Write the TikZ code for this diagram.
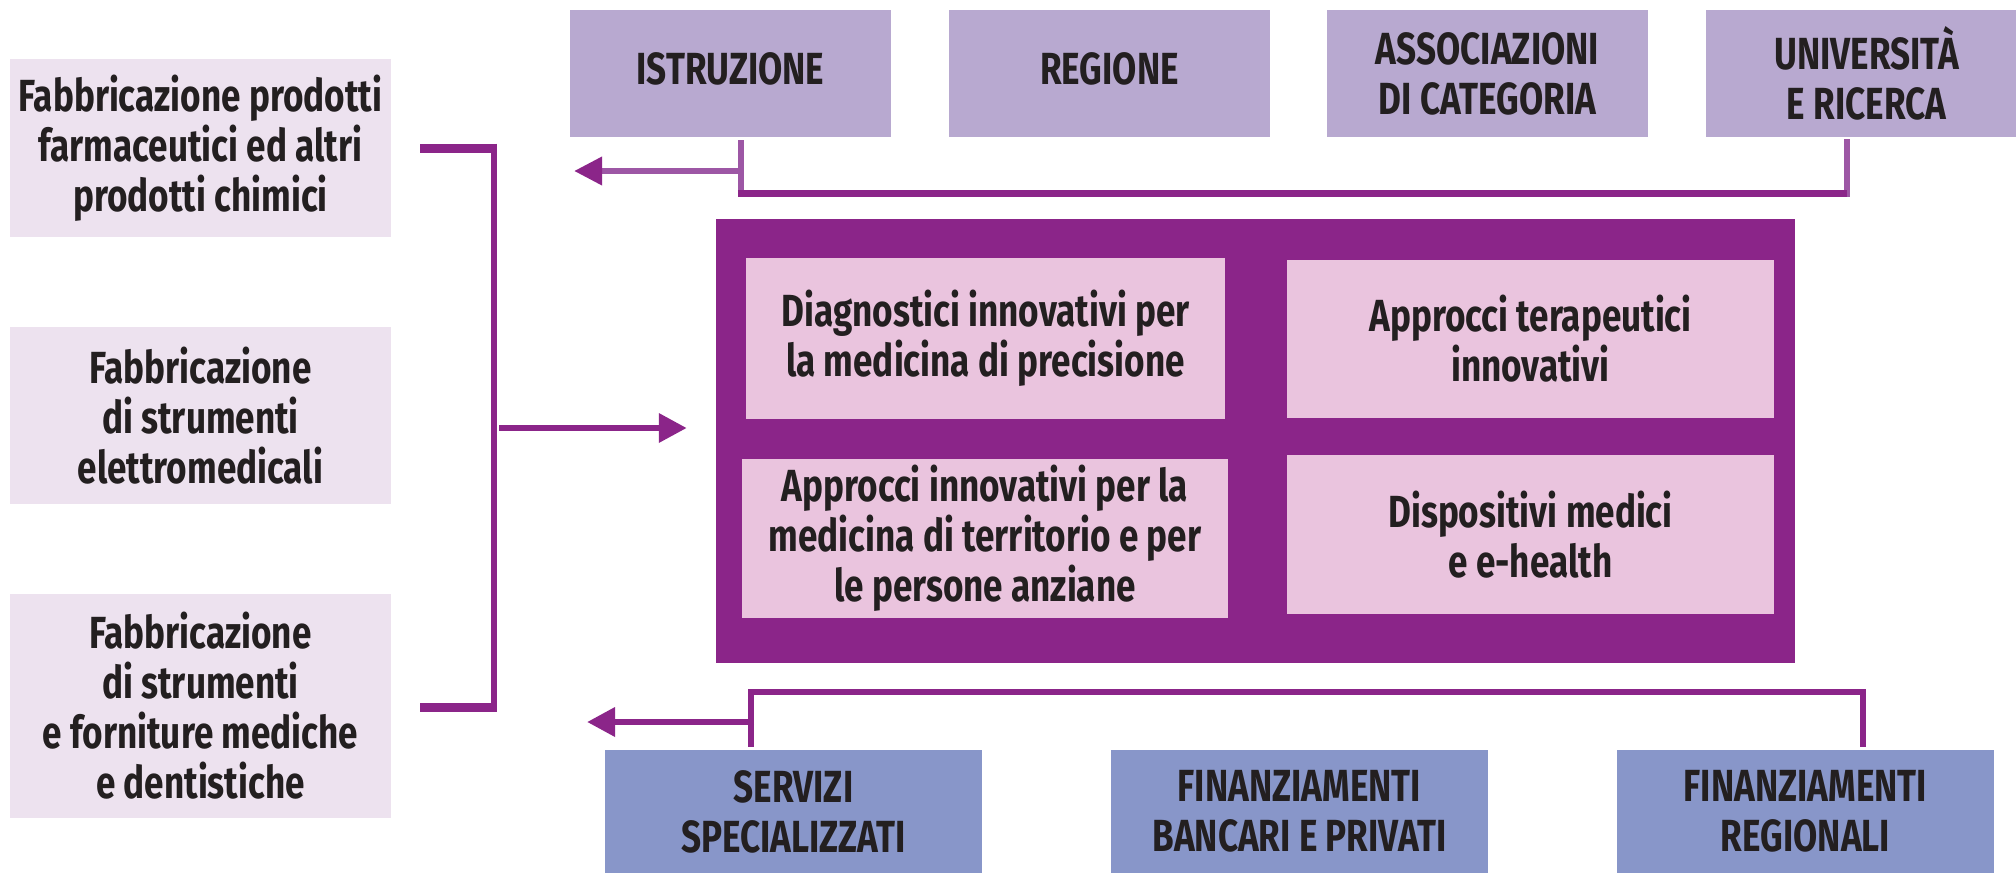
\documentclass[tikz,border=0pt]{standalone}
\usepackage{fontspec}
\setmainfont{Fira Sans}[FakeStretch=0.78]
\usetikzlibrary{arrows.meta}

\definecolor{inkdark}{HTML}{231F20}
\definecolor{sectorfill}{HTML}{EDE2EF}
\definecolor{actorfill}{HTML}{B8A9D0}
\definecolor{hubpurple}{HTML}{8B2589}
\definecolor{themefill}{HTML}{EAC4DE}
\definecolor{fundfill}{HTML}{8896C9}
\definecolor{linklight}{HTML}{9D57A5}

\begin{document}
\begin{tikzpicture}[x=1pt, y=-1pt, >={Triangle[length=28pt,width=28pt]},
  box/.style={rectangle, inner sep=0pt, align=center, text=inkdark, font=\fontsize{45}{50}\selectfont\bfseries},
  sector/.style={box, fill=sectorfill, minimum width=381pt},
  actor/.style={box, fill=actorfill, minimum width=321pt, minimum height=127pt},
  theme/.style={box, fill=themefill, minimum height=159pt},
  fund/.style={box, fill=fundfill, minimum width=377pt, minimum height=123pt},
  link/.style={hubpurple, line width=6.5pt}]
  \useasboundingbox (0,0) rectangle (2016,873);
  % sectors on the left
  \node[sector, minimum height=178pt] (fab1) at (200.5,148) {Fabbricazione prodotti\\farmaceutici ed altri\\prodotti chimici};
  \node[sector, minimum height=177pt] (fab2) at (200.5,415.5) {Fabbricazione\\di strumenti\\elettromedicali};
  \node[sector, minimum height=224pt] (fab3) at (200.5,706) {Fabbricazione\\di strumenti\\e forniture mediche\\e dentistiche};
  % actors on top
  \node[actor, text depth=10pt] (istr) at (730.5,73.5) {ISTRUZIONE};
  \node[actor, text depth=10pt] (reg) at (1109.5,73.5) {REGIONE};
  \node[actor] (assoc) at (1487.5,73.5) {ASSOCIAZIONI\\DI CATEGORIA};
  \node[actor] (univ) at (1866.5,73.5) {UNIVERSITÀ\\E RICERCA};
  % central hub with four themes
  \node[rectangle, fill=hubpurple, minimum width=1079pt, minimum height=444pt, inner sep=0pt] (hub) at (1255.5,441) {};
  \node[theme, minimum width=479pt, minimum height=161pt] (diag) at (985.5,338.5) {Diagnostici innovativi per\\la medicina di precisione};
  \node[theme, minimum width=487pt, minimum height=158pt] (terap) at (1530.5,339) {Approcci terapeutici\\innovativi};
  \node[theme, minimum width=486pt] (terr) at (985,538.5) {Approcci innovativi per la\\medicina di territorio e per\\le persone anziane};
  \node[theme, minimum width=487pt] (disp) at (1530.5,534.5) {Dispositivi medici\\e e-health};
  % funding at the bottom
  \node[fund] (serv) at (793.5,811.5) {SERVIZI\\SPECIALIZZATI};
  \node[fund] (banc) at (1299.5,811.5) {FINANZIAMENTI\\BANCARI E PRIVATI};
  \node[fund] (regfin) at (1805.5,811.5) {FINANZIAMENTI\\REGIONALI};
  % bracket from the sectors into the hub
  \coordinate (brT) at (494,148); \coordinate (brB) at (494,707); \coordinate (brM) at (494,428);
  \draw[link, line width=9pt] ([xshift=29pt]fab1.east) -- ([xshift=3.25pt]brT);
  \draw[link, line width=9pt] ([xshift=29pt]fab3.east |- brB) -- ([xshift=3.25pt]brB);
  \draw[link] ([yshift=4.5pt]brT) -- ([yshift=-4.5pt]brB);
  \draw[link, ->] ([xshift=5pt]brM) -- ([xshift=-29pt]hub.west |- brM);
  % feedback line under the actors
  \coordinate (topL) at (741,193); \coordinate (topR) at (1847,193);
  \coordinate (topA) at (741,171); \coordinate (topTip) at (574,171);
  \draw[link, linklight] ([yshift=-3pt]istr.south -| topL) -- ([yshift=-3.5pt]topL);
  \draw[link, linklight] ([yshift=-2pt]univ.south -| topR) -- ([yshift=-3.5pt]topR);
  \draw[link, line width=7pt] ([xshift=-3.25pt]topL) -- (topR);
  \draw[link, linklight, -{Triangle[length=28pt,width=27pt,color=hubpurple]}] (topA) -- (topTip);
  % feedback line over the funding
  \coordinate (botL) at (751,692); \coordinate (botR) at (1863,692);
  \coordinate (botA) at (751,722); \coordinate (botTip) at (587,722);
  \draw[link, line join=miter] ([yshift=3pt]serv.north -| botL) -- (botL) -- (botR) -- ([yshift=3pt]regfin.north -| botR);
  \draw[link, ->] ([xshift=3pt]botA) -- (botTip);
\end{tikzpicture}
\end{document}
